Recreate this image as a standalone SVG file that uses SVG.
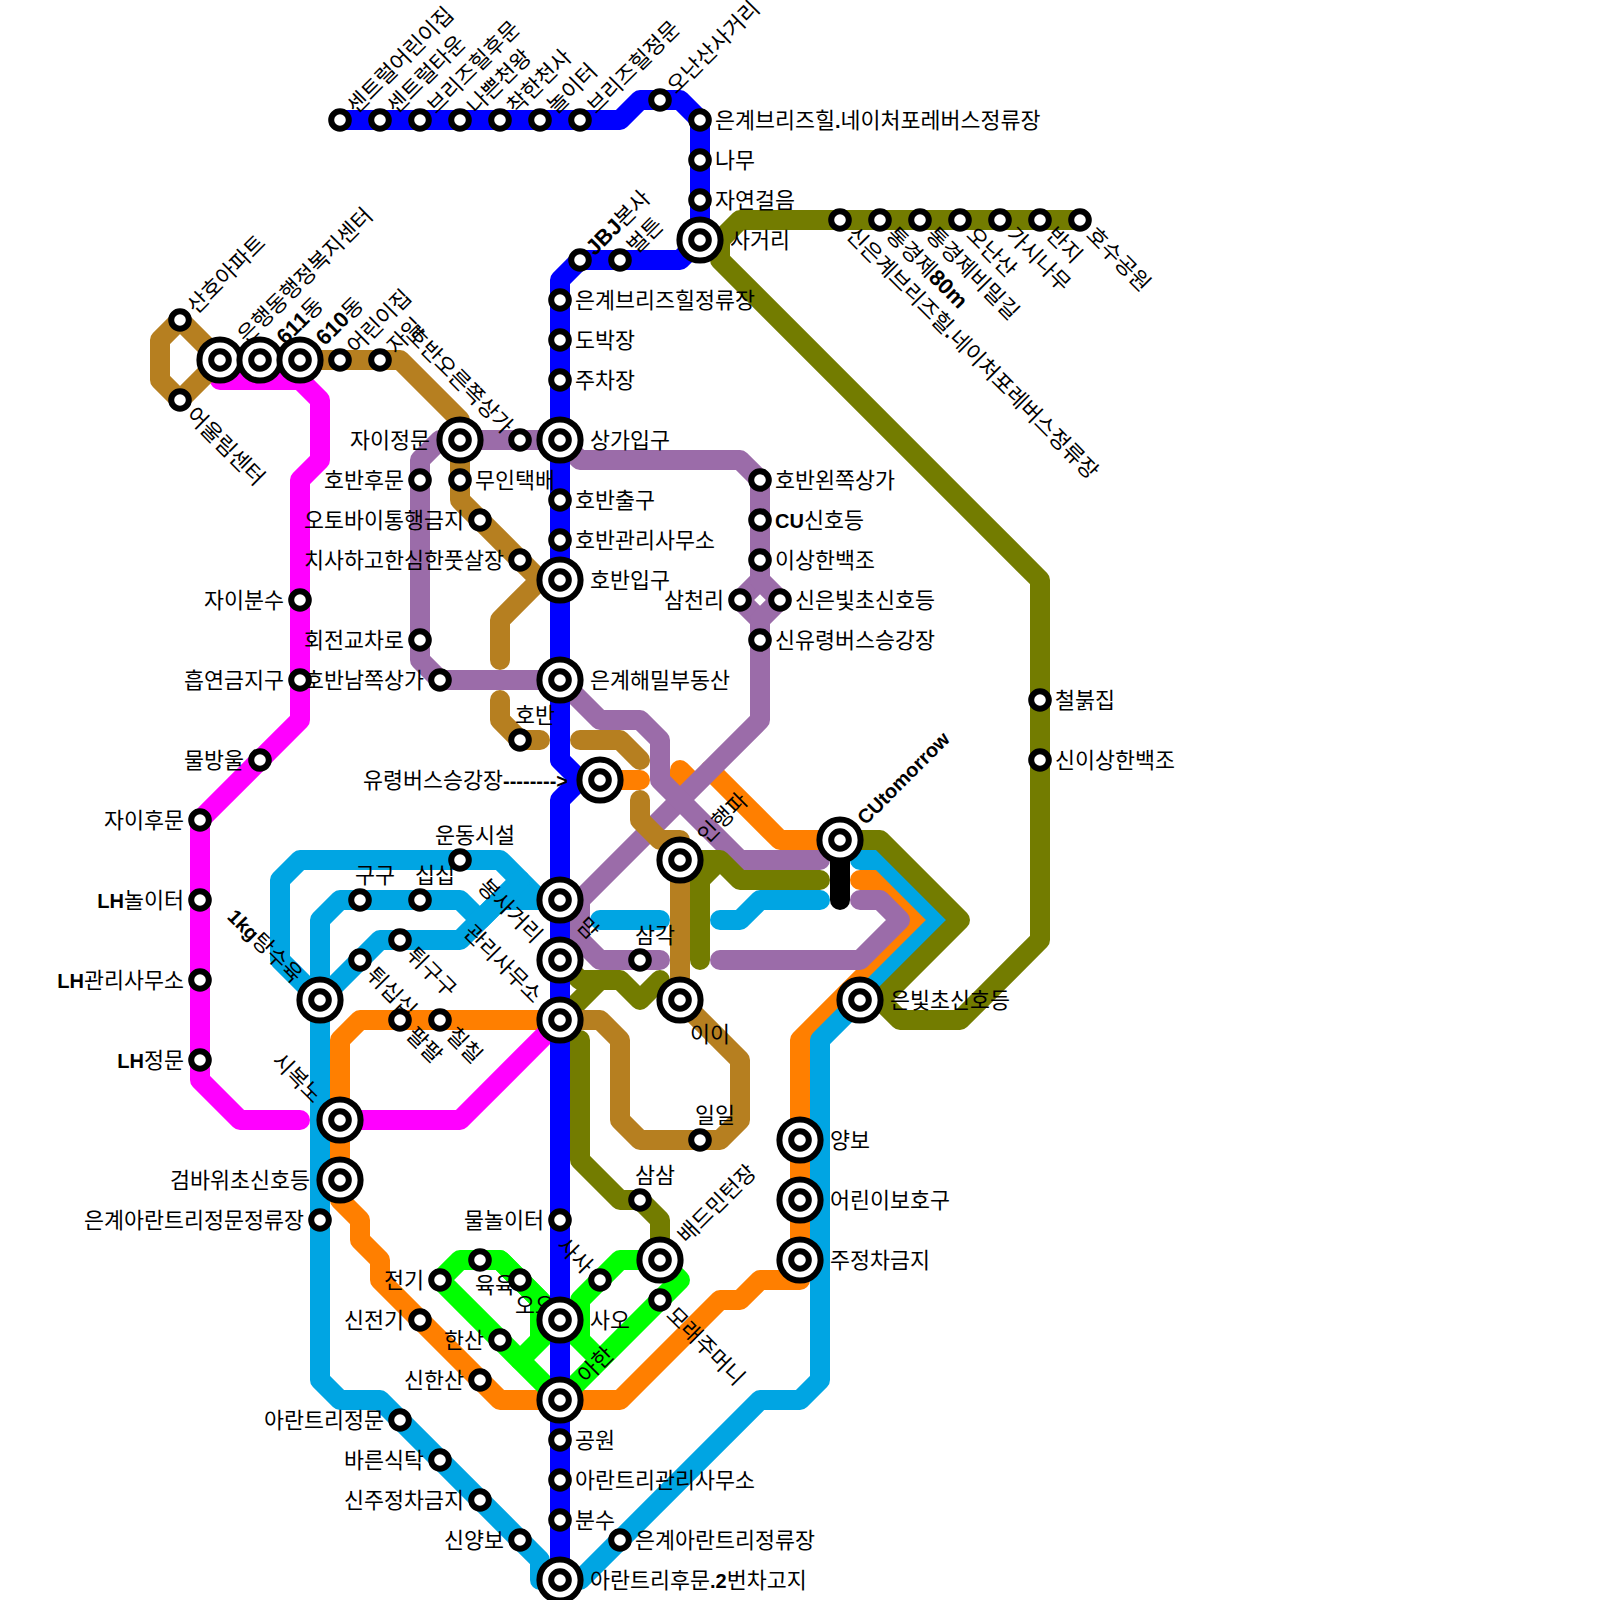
<svg xmlns="http://www.w3.org/2000/svg" width="1600" height="1600" viewBox="0 0 1600 1600">
<style>
.l{fill:none;stroke-width:20;stroke-linecap:round;stroke-linejoin:round}
text{font-family:"Liberation Sans","Noto Sans CJK KR",sans-serif;font-size:21.74px;fill:#000}
.e{text-anchor:end}.m{text-anchor:middle}.b{font-weight:bold;font-size:20px}.g{font-weight:bold;font-size:22px}
.o{fill:#fff;stroke:#000;stroke-width:6}
</style>
<defs>
<circle id="s" class="o" r="8.8"/>
<g id="x"><circle class="o" r="20.6"/><circle class="o" r="8.8"/></g>
</defs>
<rect width="1600" height="1600" fill="#fff"/>
<g id="connectors">
<g class="l" stroke="#ff7f00">
<path d="M560,1020H360L340,1040V1200L360,1220V1240L380,1260V1280L500,1400H620L720,1300H740L760,1280H800V1040L920,920L880,880H860"/>
<path d="M600,780H640"/>
<path d="M680,790V770L693,783"/>
<path d="M710,770L780,840H840"/>
</g>
<g class="l" stroke="#00a5e3">
<path d="M860,860H880L940,920L820,1040V1380L800,1400H760L580,1580H540V1560L380,1400H340L320,1380V1000L280,960V880L300,860H500L540,900H560"/>
<path d="M320,1000V920L340,900H460L480,920L500,900H560"/>
<path d="M320,1000L380,940H460L520,880"/>
<path d="M820,900H760L740,920H720"/>
<path d="M600,920H660"/>
</g>
<g class="l" stroke="#0f0">
<path d="M560,1400L440,1280L460,1260H500L560,1320"/>
<path d="M500,1260L540,1300V1340L520,1360M540,1340L560,1320"/>
<path d="M660,1260H620L580,1300V1340L600,1360M560,1320L580,1340"/>
<path d="M560,1400L680,1280L660,1260"/>
</g>
<g class="l" stroke="#ff00ff">
<path d="M220,360V380H300L320,400V460L300,480V720L200,820V1080L240,1120H300"/>
<path d="M340,1120H460L560,1020"/>
</g>
<g class="l" stroke="#9b6ca9">
<path d="M560,440H440L420,460V660L440,680H560"/>
<path d="M560,440L580,460H740L760,480V580L740,600L760,620V720L580,900V940L600,960H660"/>
<path d="M760,580L780,600L760,620"/>
<path d="M560,900H580"/>
<path d="M560,680L600,720H640L660,740V780L740,860H820"/>
<path d="M860,900H880L900,920L860,960H720"/>
</g>
<g class="l" stroke="#737c00">
<path d="M1080,220H740L720,240V260L1040,580V940L960,1020H900L880,1000H860"/>
<path d="M840,840H880L960,920L880,1000"/>
<path d="M820,880H740L720,860H680M700,960V880L720,860"/>
<path d="M560,960L580,980H620L640,1000L660,980M560,1020L600,980"/>
<path d="M580,1040V1160L620,1200H640L660,1220V1260"/>
</g>
<g class="l" stroke="#b67f20">
<path d="M180,320L160,340V380L180,400L220,360L180,320"/>
<path d="M300,360H400L460,420V500L540,580L500,620V660M540,580H560"/>
<path d="M500,700V720L520,740H540"/>
<path d="M580,740H620L640,760"/>
<path d="M640,800V820L660,840H680V1000L740,1060V1120L720,1140H640L620,1120V1040L600,1020H560"/>
</g>
<g class="l" stroke="#00f">
<path d="M340,120H620L640,100H680L700,120V240L680,260H580L560,280V760L580,780L560,800V1580"/>
<path d="M580,780H600"/>
</g>
<path class="l" stroke="#000" d="M840,840V900"/>
</g>
<g id="n1"><text transform="translate(340 120) rotate(-45)" x="15" y="8">센트럴어린이집</text><use href="#s" x="340" y="120"/></g>
<g id="n2"><text transform="translate(380 120) rotate(-45)" x="15" y="8">센트럴타운</text><use href="#s" x="380" y="120"/></g>
<g id="n3"><text transform="translate(420 120) rotate(-45)" x="15" y="8">브리즈힐후문</text><use href="#s" x="420" y="120"/></g>
<g id="n4"><text transform="translate(460 120) rotate(-45)" x="15" y="8">나쁜천왕</text><use href="#s" x="460" y="120"/></g>
<g id="n5"><text transform="translate(500 120) rotate(-45)" x="15" y="8">착한천사</text><use href="#s" x="500" y="120"/></g>
<g id="n6"><text transform="translate(540 120) rotate(-45)" x="15" y="8">놀이터</text><use href="#s" x="540" y="120"/></g>
<g id="n7"><text transform="translate(580 120) rotate(-45)" x="15" y="8">브리즈힐정문</text><use href="#s" x="580" y="120"/></g>
<g id="n8"><text transform="translate(660 100) rotate(-45)" x="15" y="8">오난산사거리</text><use href="#s" x="660" y="100"/></g>
<g id="n9"><text x="715" y="128">은계브리즈힐<tspan class="b">.</tspan>네이처포레버스정류장</text><use href="#s" x="700" y="120"/></g>
<g id="n10"><text x="715" y="168">나무</text><use href="#s" x="700" y="160"/></g>
<g id="n11"><text x="715" y="208">자연걸음</text><use href="#s" x="700" y="200"/></g>
<g id="n12"><text transform="translate(580 260) rotate(-45)" x="13" y="8"><tspan class="g">JBJ</tspan>본사</text><use href="#s" x="580" y="260"/></g>
<g id="n13"><text transform="translate(620 260) rotate(-45)" x="15" y="8">벌튼</text><use href="#s" x="620" y="260"/></g>
<g id="n14"><text x="575" y="308">은계브리즈힐정류장</text><use href="#s" x="560" y="300"/></g>
<g id="n15"><text x="575" y="348">도박장</text><use href="#s" x="560" y="340"/></g>
<g id="n16"><text x="575" y="388">주차장</text><use href="#s" x="560" y="380"/></g>
<g id="n17"><text x="575" y="508">호반출구</text><use href="#s" x="560" y="500"/></g>
<g id="n18"><text x="575" y="548">호반관리사무소</text><use href="#s" x="560" y="540"/></g>
<g id="n19"><text class="e" x="544" y="1228">물놀이터</text><use href="#s" x="560" y="1220"/></g>
<g id="n20"><text x="575" y="1448">공원</text><use href="#s" x="560" y="1440"/></g>
<g id="n21"><text x="575" y="1488">아란트리관리사무소</text><use href="#s" x="560" y="1480"/></g>
<g id="n22"><text x="575" y="1528">분수</text><use href="#s" x="560" y="1520"/></g>
<g id="n23"><text transform="translate(840 220) rotate(45)" x="15" y="8">신은계브리즈힐<tspan class="b">.</tspan>네이처포레버스정류장</text><use href="#s" x="840" y="220"/></g>
<g id="n24"><text transform="translate(880 220) rotate(45)" x="15" y="8">통경제<tspan class="g">80m</tspan></text><use href="#s" x="880" y="220"/></g>
<g id="n25"><text transform="translate(920 220) rotate(45)" x="15" y="8">통경제비밀길</text><use href="#s" x="920" y="220"/></g>
<g id="n26"><text transform="translate(960 220) rotate(45)" x="15" y="8">오난산</text><use href="#s" x="960" y="220"/></g>
<g id="n27"><text transform="translate(1000 220) rotate(45)" x="15" y="8">가시나무</text><use href="#s" x="1000" y="220"/></g>
<g id="n28"><text transform="translate(1040 220) rotate(45)" x="15" y="8">반지</text><use href="#s" x="1040" y="220"/></g>
<g id="n29"><text transform="translate(1080 220) rotate(45)" x="15" y="8">호수공원</text><use href="#s" x="1080" y="220"/></g>
<g id="n30"><text x="1055" y="708">철붉집</text><use href="#s" x="1040" y="700"/></g>
<g id="n31"><text x="1055" y="768">신이상한백조</text><use href="#s" x="1040" y="760"/></g>
<g id="n32"><text transform="translate(180 320) rotate(-45)" x="15" y="8">산호아파트</text><use href="#s" x="180" y="320"/></g>
<g id="n33"><text transform="translate(180 400) rotate(45)" x="15" y="8">어울림센터</text><use href="#s" x="180" y="400"/></g>
<g id="n34"><text transform="translate(340 360) rotate(-45)" x="15" y="8">어린이집</text><use href="#s" x="340" y="360"/></g>
<g id="n35"><text transform="translate(380 360) rotate(-45)" x="15" y="8">자일</text><use href="#s" x="380" y="360"/></g>
<g id="n36"><text class="e" transform="translate(520 440) rotate(45)" x="-15" y="8">호반오른쪽상가</text><use href="#s" x="520" y="440"/></g>
<g id="n37"><text class="e" x="404" y="488">호반후문</text><use href="#s" x="420" y="480"/></g>
<g id="n38"><text x="475" y="488">무인택배</text><use href="#s" x="460" y="480"/></g>
<g id="n39"><text class="e" x="464" y="528">오토바이통행금지</text><use href="#s" x="480" y="520"/></g>
<g id="n40"><text class="e" x="504" y="568">치사하고한심한풋살장</text><use href="#s" x="520" y="560"/></g>
<g id="n41"><text class="e" x="404" y="648">회전교차로</text><use href="#s" x="420" y="640"/></g>
<g id="n42"><text class="e" x="424" y="688">호반남쪽상가</text><use href="#s" x="440" y="680"/></g>
<g id="n43"><text class="m" x="535" y="723">호반</text><use href="#s" x="520" y="740"/></g>
<g id="n44"><text x="775" y="488">호반왼쪽상가</text><use href="#s" x="760" y="480"/></g>
<g id="n45"><text x="775" y="528"><tspan class="b">CU</tspan>신호등</text><use href="#s" x="760" y="520"/></g>
<g id="n46"><text x="775" y="568">이상한백조</text><use href="#s" x="760" y="560"/></g>
<g id="n47"><text class="e" x="724" y="608">삼천리</text><use href="#s" x="740" y="600"/></g>
<g id="n48"><text x="795" y="608">신은빛초신호등</text><use href="#s" x="780" y="600"/></g>
<g id="n49"><text x="775" y="648">신유령버스승강장</text><use href="#s" x="760" y="640"/></g>
<g id="n50"><text class="e" x="284" y="608">자이분수</text><use href="#s" x="300" y="600"/></g>
<g id="n51"><text class="e" x="284" y="688">흡연금지구</text><use href="#s" x="300" y="680"/></g>
<g id="n52"><text class="e" x="244" y="768">물방울</text><use href="#s" x="260" y="760"/></g>
<g id="n53"><text class="e" x="184" y="828">자이후문</text><use href="#s" x="200" y="820"/></g>
<g id="n54"><text class="e" x="184" y="908"><tspan class="b">LH</tspan>놀이터</text><use href="#s" x="200" y="900"/></g>
<g id="n55"><text class="e" x="184" y="988"><tspan class="b">LH</tspan>관리사무소</text><use href="#s" x="200" y="980"/></g>
<g id="n56"><text class="e" x="184" y="1068"><tspan class="b">LH</tspan>정문</text><use href="#s" x="200" y="1060"/></g>
<g id="n57"><text class="m" x="475" y="843">운동시설</text><use href="#s" x="460" y="860"/></g>
<g id="n58"><text class="m" x="375" y="883">구구</text><use href="#s" x="360" y="900"/></g>
<g id="n59"><text class="m" x="435" y="883">십십</text><use href="#s" x="420" y="900"/></g>
<g id="n60"><text transform="translate(400 940) rotate(45)" x="15" y="8">튀구구</text><use href="#s" x="400" y="940"/></g>
<g id="n61"><text transform="translate(360 960) rotate(45)" x="15" y="8">튀십십</text><use href="#s" x="360" y="960"/></g>
<g id="n62"><text transform="translate(400 1020) rotate(45)" x="15" y="8">팔팔</text><use href="#s" x="400" y="1020"/></g>
<g id="n63"><text transform="translate(440 1020) rotate(45)" x="15" y="8">칠칠</text><use href="#s" x="440" y="1020"/></g>
<g id="n64"><text class="m" x="655" y="943">삼각</text><use href="#s" x="640" y="960"/></g>
<g id="n65"><text class="m" x="715" y="1123">일일</text><use href="#s" x="700" y="1140"/></g>
<g id="n66"><text class="m" x="655" y="1183">삼삼</text><use href="#s" x="640" y="1200"/></g>
<g id="n67"><text class="e" x="304" y="1228">은계아란트리정문정류장</text><use href="#s" x="320" y="1220"/></g>
<g id="n68"><text class="e" x="424" y="1288">전기</text><use href="#s" x="440" y="1280"/></g>
<g id="n69"><text class="m" x="495" y="1293">육육</text><use href="#s" x="480" y="1260"/></g>
<g id="n70"><text class="m" x="535" y="1313">오오</text><use href="#s" x="520" y="1280"/></g>
<g id="n71"><text class="e" x="404" y="1328">신전기</text><use href="#s" x="420" y="1320"/></g>
<g id="n72"><text class="e" x="484" y="1348">한산</text><use href="#s" x="500" y="1340"/></g>
<g id="n73"><text class="e" x="464" y="1388">신한산</text><use href="#s" x="480" y="1380"/></g>
<g id="n74"><text class="e" transform="translate(600 1280) rotate(45)" x="-15" y="8">사사</text><use href="#s" x="600" y="1280"/></g>
<g id="n75"><text transform="translate(660 1300) rotate(45)" x="15" y="8">모래주머니</text><use href="#s" x="660" y="1300"/></g>
<g id="n76"><text class="e" x="384" y="1428">아란트리정문</text><use href="#s" x="400" y="1420"/></g>
<g id="n77"><text class="e" x="424" y="1468">바른식탁</text><use href="#s" x="440" y="1460"/></g>
<g id="n78"><text class="e" x="464" y="1508">신주정차금지</text><use href="#s" x="480" y="1500"/></g>
<g id="n79"><text class="e" x="504" y="1548">신양보</text><use href="#s" x="520" y="1540"/></g>
<g id="n80"><text x="635" y="1548">은계아란트리정류장</text><use href="#s" x="620" y="1540"/></g>
<g id="x1"><text x="730" y="248">사거리</text><use href="#x" x="700" y="240"/></g>
<g id="x2"><text transform="translate(220 360) rotate(-45)" x="30" y="8">은행동행정복지센터</text><use href="#x" x="220" y="360"/></g>
<g id="x3"><text transform="translate(260 360) rotate(-45)" x="28" y="8"><tspan class="g">611</tspan>동</text><use href="#x" x="260" y="360"/></g>
<g id="x4"><text transform="translate(300 360) rotate(-45)" x="27" y="8"><tspan class="g">610</tspan>동</text><use href="#x" x="300" y="360"/></g>
<g id="x5"><text class="e" x="430" y="448">자이정문</text><use href="#x" x="460" y="440"/></g>
<g id="x6"><text x="590" y="448">상가입구</text><use href="#x" x="560" y="440"/></g>
<g id="x7"><text x="590" y="588">호반입구</text><use href="#x" x="560" y="580"/></g>
<g id="x8"><text x="590" y="688">은계해밀부동산</text><use href="#x" x="560" y="680"/></g>
<g id="x9"><text class="e" x="568" y="788">유령버스승강장<tspan class="b">--------&gt;</tspan></text><use href="#x" x="600" y="780"/></g>
<g id="x10"><text transform="translate(680 860) rotate(-45)" x="30" y="8">인행파</text><use href="#x" x="680" y="860"/></g>
<g id="x11"><text transform="translate(560 900) rotate(45)" x="30" y="8">맘</text><use href="#x" x="560" y="900"/></g>
<g id="x12"><text class="e" transform="translate(560 960) rotate(45)" x="-30" y="8">봉사거리</text><use href="#x" x="560" y="960"/></g>
<g id="x13"><text class="m" x="710" y="1042">이이</text><use href="#x" x="680" y="1000"/></g>
<g id="x14"><text class="e" transform="translate(560 1020) rotate(45)" x="-30" y="8">관리사무소</text><use href="#x" x="560" y="1020"/></g>
<g id="x15"><text transform="translate(840 840) rotate(-45)" x="28" y="8" class="b">CUtomorrow</text><use href="#x" x="840" y="840"/></g>
<g id="x16"><text x="890" y="1008">은빛초신호등</text><use href="#x" x="860" y="1000"/></g>
<g id="x17"><text class="e" transform="translate(320 1000) rotate(45)" x="-30" y="8"><tspan class="b">1kg</tspan>탕수육</text><use href="#x" x="320" y="1000"/></g>
<g id="x18"><text class="e" transform="translate(340 1120) rotate(45)" x="-30" y="8">시복노</text><use href="#x" x="340" y="1120"/></g>
<g id="x19"><text class="e" x="310" y="1188">검바위초신호등</text><use href="#x" x="340" y="1180"/></g>
<g id="x20"><text x="830" y="1148">양보</text><use href="#x" x="800" y="1140"/></g>
<g id="x21"><text x="830" y="1208">어린이보호구</text><use href="#x" x="800" y="1200"/></g>
<g id="x22"><text x="830" y="1268">주정차금지</text><use href="#x" x="800" y="1260"/></g>
<g id="x23"><text transform="translate(660 1260) rotate(-45)" x="30" y="8">배드민턴장</text><use href="#x" x="660" y="1260"/></g>
<g id="x24"><text x="590" y="1328">사오</text><use href="#x" x="560" y="1320"/></g>
<g id="x25"><text transform="translate(560 1400) rotate(-45)" x="30" y="8">아한</text><use href="#x" x="560" y="1400"/></g>
<g id="x26"><text x="590" y="1588">아란트리후문<tspan class="b">.2</tspan>번차고지</text><use href="#x" x="560" y="1580"/></g>
</svg>
